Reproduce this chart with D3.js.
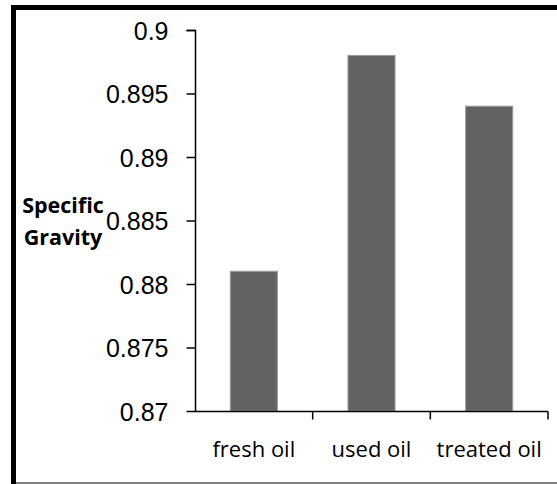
<!DOCTYPE html>
<html>
<head>
<meta charset="utf-8">
<script src="https://cdn.jsdelivr.net/npm/d3@7"></script>
<style>
html,body{margin:0;padding:0;background:#fff;}
svg{display:block;}
</style>
</head>
<body>
<svg id="chart" width="557" height="484"></svg>
<script>
const categories = ["fresh oil", "used oil", "treated oil"];
const values = [0.881, 0.898, 0.894];
const yTicks = [0.87, 0.875, 0.88, 0.885, 0.89, 0.895, 0.9];
const yTickLabels = ["0.87", "0.875", "0.88", "0.885", "0.89", "0.895", "0.9"];
const yTitle = ["Specific", "Gravity"];

const svg = d3.select("#chart");

// frame
svg.append("rect").attr("x", 11).attr("y", 5).attr("width", 560).attr("height", 5).attr("fill", "#000");
svg.append("rect").attr("x", 11).attr("y", 5).attr("width", 5).attr("height", 484).attr("fill", "#000");
svg.append("rect").attr("x", 16).attr("y", 482).attr("width", 545).attr("height", 2).attr("fill", "#808080");

const x = d3.scaleBand().domain(categories).range([195, 548]).padding(0);
const y = d3.scaleLinear().domain([0.87, 0.9]).range([411, 30]);

const barW = x.bandwidth() * 0.4;

// bars
svg.append("g").selectAll("rect").data(categories).join("rect")
  .attr("x", d => x(d) + (x.bandwidth() - barW) / 2)
  .attr("y", (d, i) => y(values[i]))
  .attr("width", barW)
  .attr("height", (d, i) => y(0.87) - y(values[i]))
  .attr("fill", "#626262")
  .attr("stroke", "#9a9a9a")
  .attr("stroke-width", 1);

// y axis
const yAxis = d3.axisLeft(y).tickValues(yTicks).tickSize(9).tickPadding(18)
  .tickFormat((d, i) => yTickLabels[i]);
const gy = svg.append("g").attr("transform", "translate(195.5,0)").call(yAxis);
gy.select(".domain").attr("d", `M-9,${y(0.9)+0.5}H0V${y(0.87)+0.5}`).attr("stroke", "#000").attr("stroke-width", 1.5);
gy.selectAll(".tick line").attr("stroke", "#000").attr("stroke-width", 1.5);
gy.selectAll(".tick text")
  .attr("font-family", "'Liberation Sans', Arial, sans-serif")
  .attr("font-size", 25)
  .attr("fill", "#000")
  .attr("dy", "0.36em");

// x axis
const gx = svg.append("g").attr("transform", `translate(0,${y(0.87) + 0.5})`);
gx.append("path").attr("d", `M195,0H${x.range()[1]}`).attr("stroke", "#000").attr("stroke-width", 1.5).attr("fill", "none");
gx.selectAll("line.tk").data(categories).join("line").attr("class", "tk")
  .attr("x1", d => x(d) + x.bandwidth()).attr("x2", d => x(d) + x.bandwidth())
  .attr("y1", 0).attr("y2", 8).attr("stroke", "#000").attr("stroke-width", 1.5);
gx.selectAll("text").data(categories).join("text")
  .attr("x", d => x(d) + x.bandwidth() / 2)
  .attr("y", 45)
  .attr("text-anchor", "middle")
  .attr("font-family", "'Open Sans', sans-serif")
  .attr("font-size", 22)
  .attr("fill", "#000")
  .text(d => d);

// y title
svg.append("g").selectAll("text").data(yTitle).join("text")
  .attr("x", 63)
  .attr("y", (d, i) => 213 + i * 32)
  .attr("text-anchor", "middle")
  .attr("font-family", "'Open Sans', sans-serif")
  .attr("font-weight", "bold")
  .attr("font-size", 21.5)
  .attr("fill", "#000")
  .text(d => d);
</script>
</body>
</html>
